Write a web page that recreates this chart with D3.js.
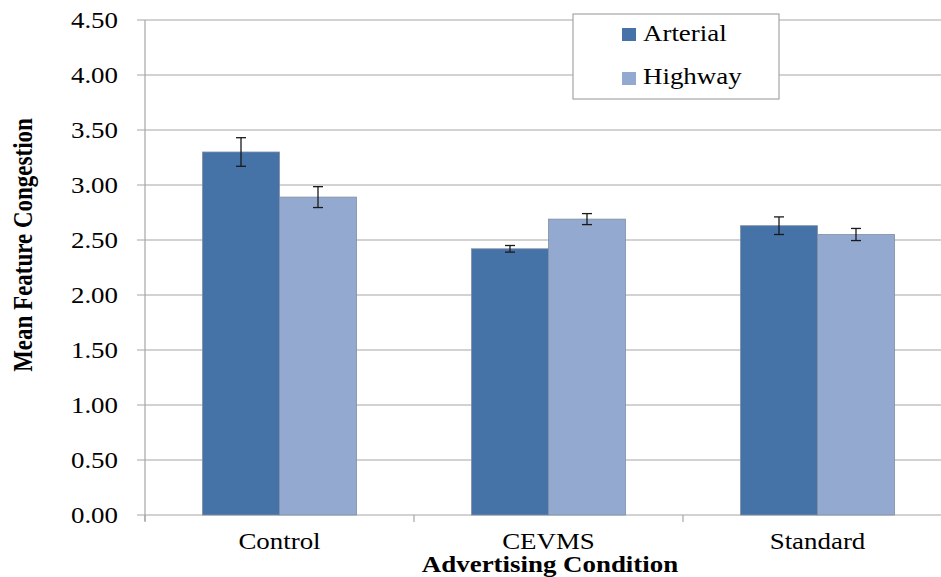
<!DOCTYPE html>
<html>
<head>
<meta charset="utf-8">
<script src="https://cdn.jsdelivr.net/npm/d3@7"></script>
<style>
  body { margin: 0; background: white; }
  svg text { font-family: "Liberation Serif", "Times New Roman", serif; fill: #000; font-size: 23px; }
</style>
</head>
<body>
<svg width="941" height="577"></svg>
<script>
// data
const categories = ["Control", "CEVMS", "Standard"];
const seriesNames = ["Arterial", "Highway"];
const arterial = [3.30, 2.42, 2.63];
const highway = [2.89, 2.69, 2.55];
const arterialErr = [0.13, 0.03, 0.08];
const highwayErr = [0.095, 0.05, 0.055];
const yTicks = [0, 0.5, 1, 1.5, 2, 2.5, 3, 3.5, 4, 4.5];

const colors = ["#4572a7", "#93a9cf"];
const gridColor = "#a6a6a6";
const stretch = 1.17; // the original picture is widened a bit

const svg = d3.select("svg");
const plotL = 145, plotR = 952, plotT = 20, plotB = 515;

const x = d3.scaleBand().domain(categories).range([plotL, plotR]).paddingInner(0).paddingOuter(0);
const inner = d3.scaleBand().domain(seriesNames).range([57.5, x.bandwidth() - 57.5]);
const y = d3.scaleLinear().domain([0, 4.5]).range([plotB, plotT]);

// put a text at (tx, ty), widened like the source image
function label(g, tx, ty, str, anchor, rot) {
  return g.append("text")
    .attr("transform", `translate(${tx},${ty}) scale(${stretch},1)` + (rot ? ` rotate(${rot})` : ""))
    .attr("text-anchor", anchor)
    .text(str);
}

// gridlines
svg.append("g")
  .selectAll("line")
  .data(yTicks)
  .enter().append("line")
  .attr("x1", plotL - 8)
  .attr("x2", 941)
  .attr("y1", d => y(d))
  .attr("y2", d => y(d))
  .attr("stroke", gridColor)
  .attr("stroke-width", 1.2);

// y axis line
svg.append("line")
  .attr("x1", plotL).attr("x2", plotL)
  .attr("y1", plotT).attr("y2", plotB + 6)
  .attr("stroke", gridColor).attr("stroke-width", 1.2);

// x category ticks
svg.append("g")
  .selectAll("line")
  .data([0, 1, 2, 3])
  .enter().append("line")
  .attr("x1", i => plotL + i * x.step())
  .attr("x2", i => plotL + i * x.step())
  .attr("y1", plotB)
  .attr("y2", plotB + 7)
  .attr("stroke", gridColor).attr("stroke-width", 1.2);

// y tick labels
const yl = svg.append("g");
yTicks.forEach(d => label(yl, 118, y(d) + 7.5, d3.format(".2f")(d), "end"));

// bars
const rows = [];
categories.forEach((c, i) => {
  rows.push({ cat: c, s: "Arterial", v: arterial[i], e: arterialErr[i], col: colors[0] });
  rows.push({ cat: c, s: "Highway", v: highway[i], e: highwayErr[i], col: colors[1] });
});

svg.append("g")
  .selectAll("rect")
  .data(rows)
  .enter().append("rect")
  .attr("x", d => x(d.cat) + inner(d.s))
  .attr("y", d => y(d.v))
  .attr("width", inner.bandwidth())
  .attr("height", d => y(0) - y(d.v))
  .attr("fill", d => d.col)
  .attr("stroke", "#7f8ea3")
  .attr("stroke-width", 0.8);

// error bars
const eb = svg.append("g").attr("stroke", "#1a1a1a").attr("stroke-width", 1.3);
rows.forEach(d => {
  const cx = x(d.cat) + inner(d.s) + inner.bandwidth() / 2;
  eb.append("line").attr("x1", cx).attr("x2", cx).attr("y1", y(d.v + d.e)).attr("y2", y(d.v - d.e));
  eb.append("line").attr("x1", cx - 5).attr("x2", cx + 5).attr("y1", y(d.v + d.e)).attr("y2", y(d.v + d.e));
  eb.append("line").attr("x1", cx - 5).attr("x2", cx + 5).attr("y1", y(d.v - d.e)).attr("y2", y(d.v - d.e));
});

// category labels
const xl = svg.append("g");
categories.forEach(c => label(xl, x(c) + x.bandwidth() / 2, 549, c, "middle"));

// axis titles
label(svg, 550, 572, "Advertising Condition", "middle").style("font-weight", "bold");
label(svg, 32, 245, "Mean Feature Congestion", "middle", -90).style("font-weight", "bold");

// legend
const lg = svg.append("g");
lg.append("rect")
  .attr("x", 573).attr("y", 14)
  .attr("width", 206).attr("height", 85)
  .attr("fill", "white")
  .attr("stroke", gridColor).attr("stroke-width", 1.2);
seriesNames.forEach((s, i) => {
  lg.append("rect")
    .attr("x", 622).attr("y", 28 + i * 44)
    .attr("width", 14).attr("height", 13)
    .attr("fill", colors[i]);
  label(lg, 643, 41 + i * 43, s, "start");
});
</script>
</body>
</html>
